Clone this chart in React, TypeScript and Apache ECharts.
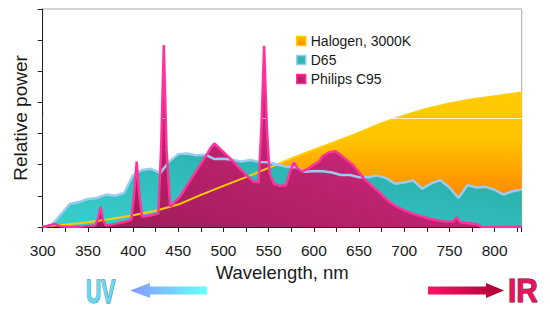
import React, { useEffect, useRef } from "react";
import * as echarts from "echarts";

const FONT = "'Liberation Sans', Arial, Helvetica, sans-serif";

// Halogen 3000K (relative power, axis units 0..7)
const halogenNm = [300, 325, 350, 375, 400, 425, 450, 475, 500, 525, 550, 575, 600, 625, 650, 675, 700, 725, 750, 775, 800, 830];
const halogenPower = [0.02, 0.07, 0.15, 0.26, 0.38, 0.52, 0.72, 1.03, 1.32, 1.6, 1.9, 2.2, 2.48, 2.75, 3.03, 3.33, 3.58, 3.8, 3.97, 4.1, 4.2, 4.32];

// D65
const d65Nm = [300, 310, 320, 330, 340, 350, 360, 370, 380, 390, 400, 410, 420, 430, 440, 450, 460, 470, 480, 490, 500, 510, 520, 530, 540, 550, 560, 570, 580, 590, 600, 610, 620, 630, 640, 650, 660, 670, 680, 690, 700, 710, 720, 730, 740, 750, 760, 770, 780, 790, 800, 810, 820, 830];
const d65Power = [0, 0.07, 0.4, 0.74, 0.8, 0.9, 0.93, 1.04, 1.0, 1.09, 1.66, 1.83, 1.87, 1.73, 2.1, 2.34, 2.36, 2.3, 2.32, 2.18, 2.19, 2.16, 2.1, 2.15, 2.09, 2.08, 2.0, 1.93, 1.92, 1.77, 1.8, 1.79, 1.75, 1.67, 1.67, 1.6, 1.6, 1.65, 1.57, 1.39, 1.43, 1.49, 1.23, 1.4, 1.5, 1.27, 0.93, 1.34, 1.27, 1.29, 1.19, 1.04, 1.15, 1.2];

// Philips C95
const c95Nm = [300, 306, 313, 320, 330, 345, 358, 361, 364, 367, 370, 380, 390, 398, 401, 404, 407, 410, 420, 428, 431, 434, 437, 441, 452, 460, 470, 480, 486, 490, 496, 503, 510, 520, 533, 539, 542, 545, 548, 551, 556, 562, 569, 574, 578, 582, 587, 593, 600, 605, 610, 617, 624, 630, 643, 655, 663, 673, 681, 690, 699, 710, 721, 730, 745, 754, 758, 762, 768, 780, 786, 830];
const c95Power = [0, 0.04, 0.1, 0.02, 0, 0.02, 0.05, 0.25, 0.65, 0.2, 0.05, 0.1, 0.16, 0.23, 1.0, 2.1, 1.0, 0.33, 0.38, 0.43, 2.5, 5.84, 2.5, 0.65, 0.98, 1.35, 1.8, 2.25, 2.55, 2.68, 2.52, 2.32, 2.12, 1.82, 1.46, 1.44, 3.2, 5.82, 3.2, 1.73, 1.38, 1.32, 1.34, 1.8, 2.07, 1.88, 1.78, 1.86, 2.0, 2.08, 2.28, 2.4, 2.43, 2.3, 2.0, 1.57, 1.35, 1.1, 0.87, 0.68, 0.55, 0.42, 0.33, 0.25, 0.18, 0.17, 0.31, 0.15, 0.13, 0.1, 0, 0];

const seriesNames = ["Halogen, 3000K", "D65", "Philips C95"];
const xAxisName = "Wavelength, nm";
const yAxisName = "Relative power";
const markLevel = 3.5;

const zip = (xs: number[], ys: number[]) => xs.map((x, i) => [x, ys[i]]);

const lin = (x: number, y: number, x2: number, y2: number, stops: [number, string][]) => ({
  type: "linear",
  x,
  y,
  x2,
  y2,
  colorStops: stops.map(([offset, color]) => ({ offset, color })),
});

export default function App() {
  const ref = useRef<HTMLDivElement>(null);

  useEffect(() => {
    if (!ref.current) return;
    const chart = echarts.init(ref.current, undefined, { renderer: "svg" });

    const halFill = lin(0, 0, 0, 1, [
      [0, "#ffcc00"],
      [0.35, "#ffc400"],
      [0.75, "#ff8c00"],
      [1, "#ff7a00"],
    ]);
    const d65Fill = lin(0, 1, 1, 0, [
      [0, "#38d0d0"],
      [1, "#27a6a4"],
    ]);
    const c95Fill = lin(0, 1, 1, 0, [
      [0, "#9a1a55"],
      [0.5, "#c42473"],
      [1, "#d82e82"],
    ]);

    const areaSeries = (name: string, data: number[][], fill: any, z: number) => ({
      name,
      type: "line",
      data,
      showSymbol: false,
      symbol: "none",
      smooth: false,
      lineStyle: { width: 0, opacity: 0 },
      areaStyle: { color: fill, opacity: 1 },
      itemStyle: { color: fill },
      z,
      silent: true,
    });

    const lineSeries = (name: string, data: number[][], color: string, width: number, z: number, extra: any = {}) => ({
      name,
      type: "line",
      data,
      showSymbol: false,
      symbol: "none",
      smooth: false,
      lineStyle: { color, width },
      itemStyle: { color },
      z,
      silent: true,
      ...extra,
    });

    const halData = zip(halogenNm, halogenPower);
    const d65Data = zip(d65Nm, d65Power);
    const c95Data = zip(c95Nm, c95Power);

    chart.setOption({
      animation: false,
      backgroundColor: "#ffffff",
      textStyle: { fontFamily: FONT },
      grid: {
        left: 42.7,
        top: 9,
        right: 28.3,
        bottom: 82,
        show: true,
        borderColor: "#a8a8a8",
        borderWidth: 1,
        backgroundColor: "transparent",
      },
      legend: {
        orient: "vertical",
        left: 291,
        top: 29,
        itemWidth: 9,
        itemHeight: 9,
        itemGap: 5,
        icon: "rect",
        selectedMode: false,
        textStyle: { fontSize: 14, color: "#1a1a1a", fontFamily: FONT, lineHeight: 14 },
        data: [
          {
            name: seriesNames[0],
            itemStyle: {
              color: lin(0, 0, 0, 1, [[0, "#ffc000"], [1, "#ff8000"]]),
              borderColor: "#ffcc00",
              borderWidth: 1.5,
            },
          },
          {
            name: seriesNames[1],
            itemStyle: { color: "#2fb8b6", borderColor: "#99ccee", borderWidth: 1.5 },
          },
          {
            name: seriesNames[2],
            itemStyle: {
              color: lin(0, 1, 1, 0, [[0, "#a01c5c"], [1, "#d02c7c"]]),
              borderColor: "#ff3399",
              borderWidth: 1.5,
            },
          },
        ],
      },
      xAxis: {
        type: "value",
        min: 300,
        max: 830,
        interval: 25,
        name: xAxisName,
        nameLocation: "middle",
        nameGap: 33,
        nameTextStyle: { fontSize: 18.5, color: "#1a1a1a", fontFamily: FONT },
        axisLine: { show: true, lineStyle: { color: "#222", width: 1 } },
        axisTick: { show: true, length: 5, lineStyle: { color: "#222" } },
        axisLabel: {
          margin: 15,
          fontSize: 15.5,
          color: "#1a1a1a",
          fontFamily: FONT,
          formatter: (v: number) => (v % 50 === 0 && v <= 800 ? String(v) : ""),
        },
        splitLine: { show: false },
      },
      yAxis: {
        type: "value",
        min: 0,
        max: 7,
        interval: 1,
        name: yAxisName,
        nameLocation: "middle",
        nameGap: 13,
        nameTextStyle: { fontSize: 19, color: "#1a1a1a", fontFamily: FONT },
        axisLine: { show: true, lineStyle: { color: "#222", width: 1 } },
        axisTick: { show: true, length: 5, lineStyle: { color: "#222" } },
        axisLabel: { show: false },
        splitLine: { show: false },
      },
      series: [
        areaSeries(seriesNames[0], halData, halFill, 1),
        areaSeries(seriesNames[1], d65Data, d65Fill, 2),
        areaSeries(seriesNames[2], c95Data, c95Fill, 3),
        lineSeries("halogen-edge", halData, "#ffcc00", 2, 4),
        lineSeries("d65-edge", d65Data, "#99ccee", 2.5, 5),
        lineSeries("c95-edge", c95Data, "#ff3399", 2.5, 6, {
          markLine: {
            silent: true,
            symbol: "none",
            label: { show: false },
            lineStyle: { color: "rgba(255,255,255,0.75)", width: 1, type: "solid" },
            data: [{ yAxis: markLevel }],
          },
        }),
      ],
      graphic: [
        {
          type: "polygon",
          silent: true,
          shape: {
            points: [
              [130, 290.5],
              [150, 283],
              [150, 286.5],
              [207, 286.5],
              [207, 294.5],
              [150, 294.5],
              [150, 298],
            ],
          },
          style: { fill: lin(0, 0, 1, 0, [[0, "#8899ff"], [1, "#66ffff"]]) },
        },
        {
          type: "polygon",
          silent: true,
          shape: {
            points: [
              [428, 286.5],
              [486, 286.5],
              [486, 283],
              [504, 290.5],
              [486, 298],
              [486, 294.5],
              [428, 294.5],
            ],
          },
          style: { fill: lin(0, 0, 1, 0, [[0, "#ff1166"], [1, "#aa0033"]]) },
        },
        {
          type: "text",
          silent: true,
          x: 86,
          y: 290.5,
          scaleX: 0.62,
          style: {
            text: "UV",
            font: `bold 34px ${FONT}`,
            fill: "#66d8f4",
            stroke: "#445566",
            lineWidth: 1,
            textAlign: "left",
            textVerticalAlign: "middle",
          },
        },
        {
          type: "text",
          silent: true,
          x: 508,
          y: 290.5,
          scaleX: 0.88,
          style: {
            text: "IR",
            font: `bold 34px ${FONT}`,
            fill: "#e8125f",
            stroke: "#660026",
            lineWidth: 1,
            textAlign: "left",
            textVerticalAlign: "middle",
          },
        },
      ],
    });

    return () => chart.dispose();
  }, []);

  return (
    <div
      ref={ref}
      style={{ position: "fixed", left: 0, top: 0, width: 550, height: 309, background: "#fff" }}
    />
  );
}
